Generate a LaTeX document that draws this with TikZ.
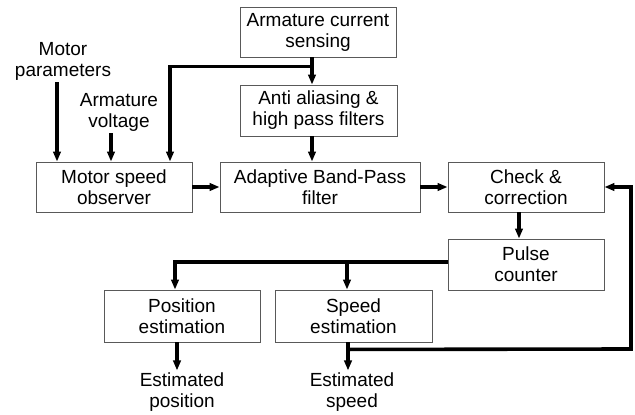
\documentclass[tikz,border=0pt]{standalone}
\usepackage{fontspec}
\setmainfont{Liberation Sans}
\usetikzlibrary{arrows.meta,calc}
\begin{document}
\begin{tikzpicture}[x=1pt,y=-1pt,
  font=\fontsize{19}{21}\selectfont,
  blk/.style={draw=black!65, line width=0.9pt, minimum width=156pt, minimum height=50pt, inner sep=0pt, align=center},
  lbl/.style={align=center, inner sep=2pt},
  wire/.style={line width=3.6pt},
  arr/.style={wire, -{Triangle[length=10pt,width=7.5pt]}}
]
\useasboundingbox (0,0) rectangle (635,415);
% boxes
\node[blk] (cur) at (318,32) {Armature current\\sensing};
\node[blk, minimum width=157pt, minimum height=51pt] (aa) at (318.5,110.5) {Anti aliasing \&\\high pass filters};
\node[blk] (obs) at (114,187) {Motor speed\\observer};
\node[blk, minimum width=200pt] (abp) at (320,187) {Adaptive Band-Pass\\filter};
\node[blk] (chk) at (526,187) {Check \&\\correction};
\node[blk, minimum height=51pt] (pul) at (526,264.5) {Pulse\\counter};
\node[blk, minimum height=52pt] (pos) at (182,316) {Position\\estimation};
\node[blk, minimum width=157pt, minimum height=52pt] (spd) at (353.5,316) {Speed\\estimation};
% labels
\node[lbl] (mp) at (63,61) {Motor\\parameters};
\node[lbl] (av) at (119,112) {Armature\\voltage};
\node[lbl] (ep) at (182,392) {Estimated\\position};
\node[lbl] (es) at (352,392) {Estimated\\speed};
% connectors
\draw[arr] ([xshift=-6]mp.south) -- ([xshift=-6]mp.south |- obs.north);
\draw[arr] ([xshift=-8]av.south) -- ([xshift=-8]av.south |- obs.north);
\draw[arr] ([xshift=-6]cur.south) -- ([xshift=-6]cur.south |- aa.north);
\coordinate (br1) at ($([xshift=-6]cur.south)+(0,9)$);
\draw[arr] (br1) -| ([xshift=56]obs.north);
\draw[arr] ([xshift=-6.5]aa.south) -- ([xshift=-6.5]aa.south |- abp.north);
\draw[arr] (obs.east) -- (abp.west);
\draw[arr] (abp.east) -- (chk.west);
\draw[arr] ([xshift=-7]chk.south) -- ([xshift=-7]chk.south |- pul.north);
\coordinate (pw) at ([yshift=2.5]pul.west);
\draw[arr] (pw) -| ([xshift=-7]pos.north);
\coordinate (br2) at ([xshift=-6.5]pw -| spd.north);
\draw[arr] (br2) -- ([xshift=-6.5]spd.north);
\draw[arr] ([xshift=-5]pos.south) -- ([xshift=-5]pos.south |- ep.north);
\draw[arr] ([xshift=-5.5]spd.south) -- ([xshift=-5.5]spd.south |- es.north);
\coordinate (fb) at ($([xshift=-5.5]spd.south)+(0,7)$);
\coordinate (fbr) at (631,349);
\draw[arr] (fb) -- (fbr) |- (chk.east);
\end{tikzpicture}
\end{document}
